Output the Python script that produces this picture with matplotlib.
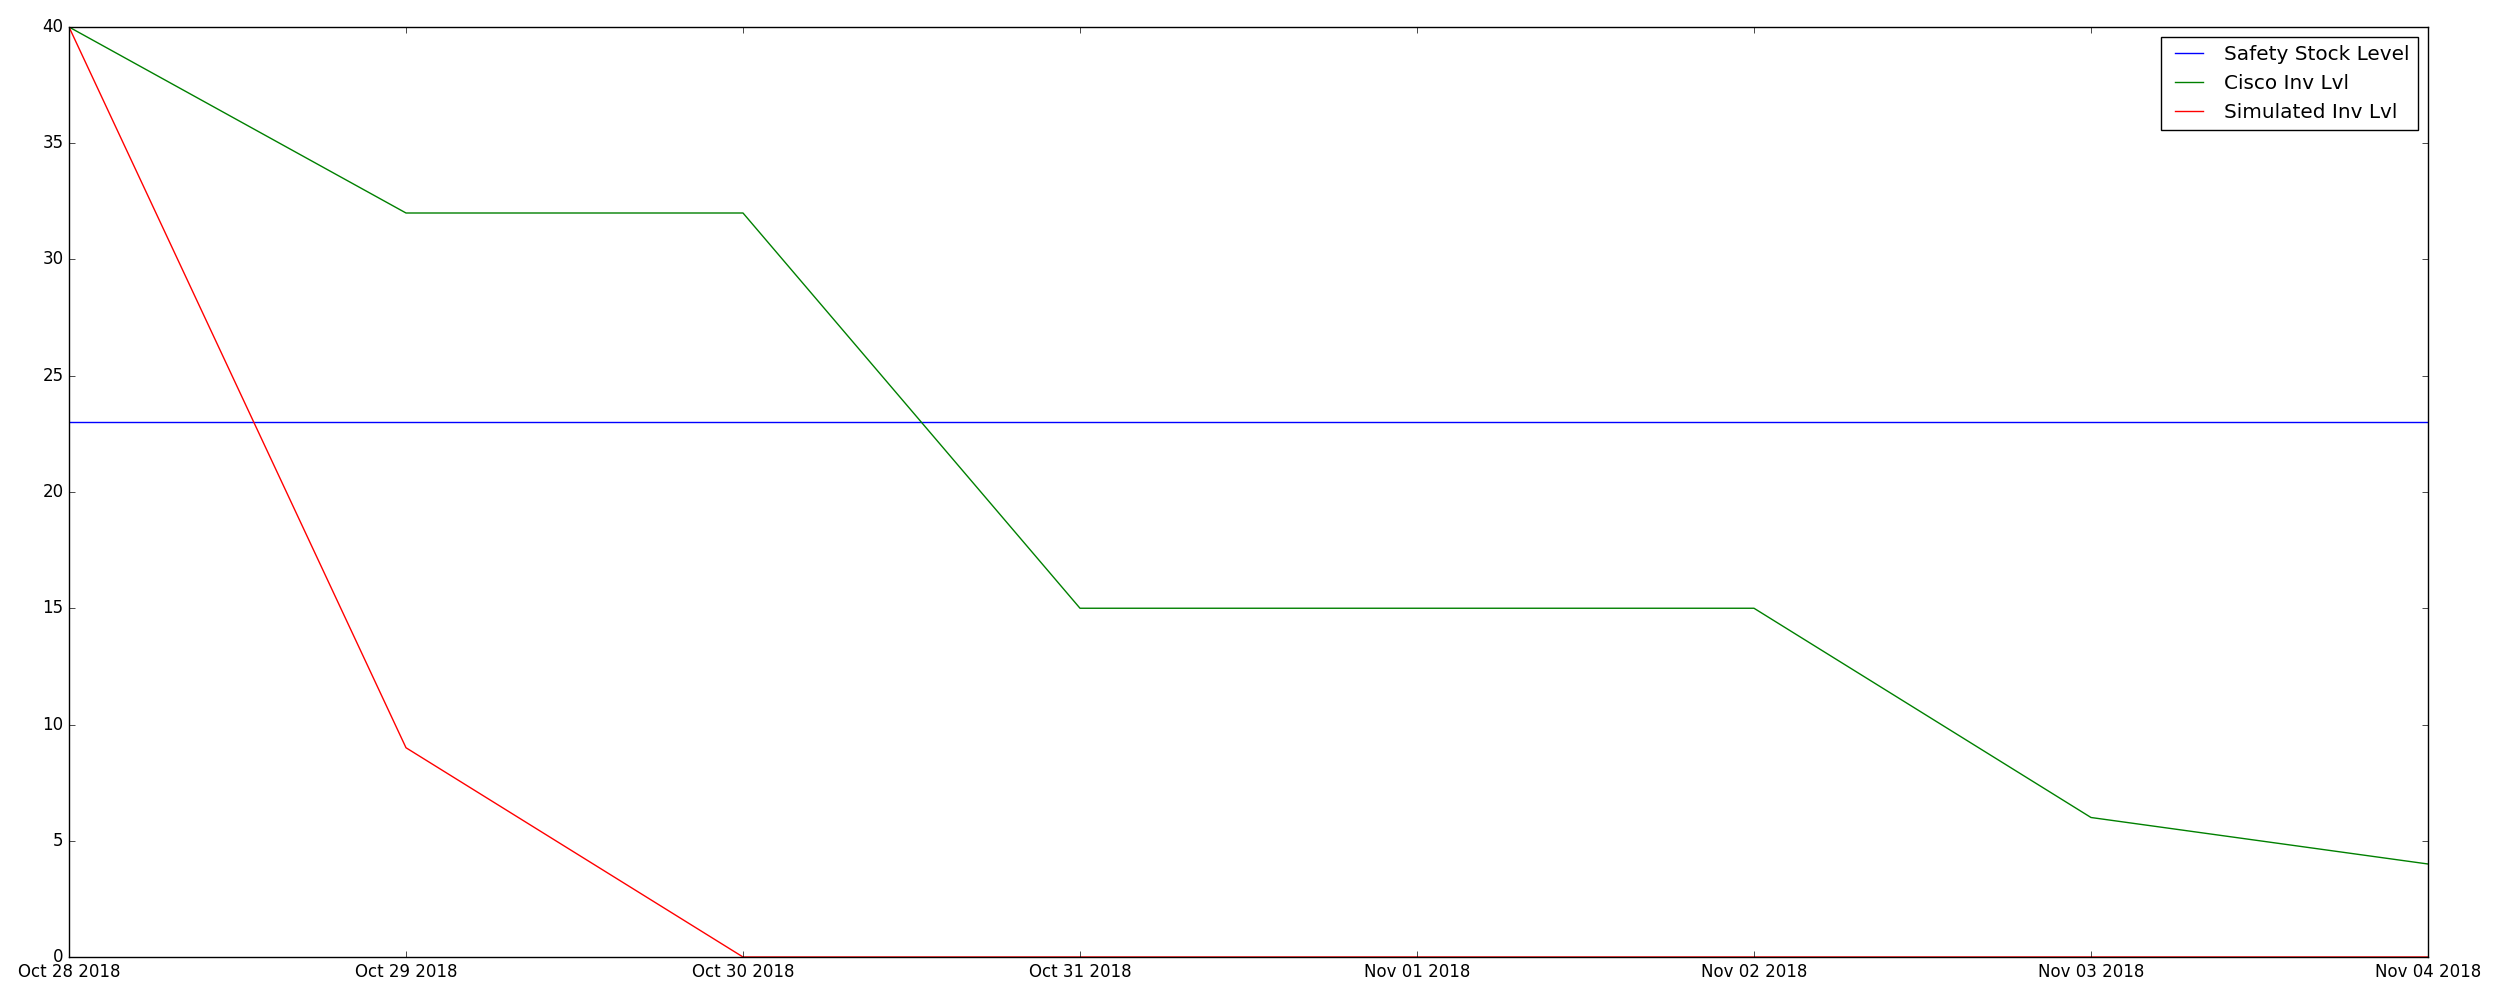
import matplotlib
matplotlib.use("Agg")
import matplotlib.pyplot as plt
import matplotlib.dates as mdates
import numpy as np
import datetime as dt

plt.style.use("classic")

dates = ["2018-10-28", "2018-10-29", "2018-10-30", "2018-10-31",
         "2018-11-01", "2018-11-02", "2018-11-03", "2018-11-04"]
safety_stock = [23, 23, 23, 23, 23, 23, 23, 23]
cisco_inv = [40, 32, 32, 15, 15, 15, 6, 4]
simulated_inv = [40, 9, 0, 0, 0, 0, 0, 0]

x = [dt.datetime.strptime(d, "%Y-%m-%d") for d in dates]

fig = plt.figure(figsize=(25, 10), dpi=100)
ax = fig.add_axes([0.0276, 0.043, 0.9436, 0.930])
ax.plot(x, safety_stock, color="b", label="Safety Stock Level")
ax.plot(x, cisco_inv, color="g", label="Cisco Inv Lvl")
ax.plot(x, simulated_inv, color="r", label="Simulated Inv Lvl")
ax.set_xlim(x[0], x[-1])
ax.set_ylim(0, 40)
ax.xaxis.set_major_locator(mdates.DayLocator())
ax.xaxis.set_major_formatter(mdates.DateFormatter("%b %d %Y"))
ax.legend(loc="upper right")
fig.savefig("out.png", dpi=100)
